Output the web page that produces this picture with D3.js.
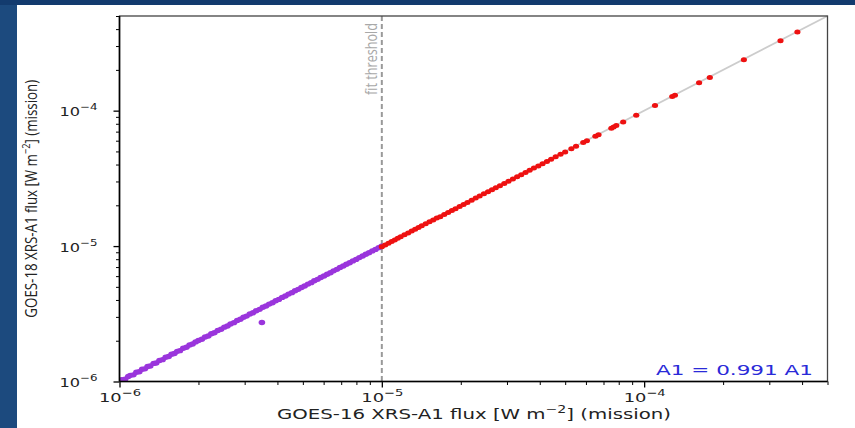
<!DOCTYPE html>
<html><head><meta charset="utf-8">
<script src="https://cdn.jsdelivr.net/npm/d3@7"></script>
<style>html,body{margin:0;padding:0;background:#1c4a7e;}svg{display:block;}</style>
</head><body><svg id="c" width="855" height="428"></svg>
<script>
// ---- data (flux in W m^-2, listed in units of 1e-6) ----
const purpleX = [1.00,1.02,1.05,1.08,1.10,1.13,1.16,1.19,1.22,1.25,
 1.28,1.31,1.35,1.38,1.42,1.46,1.50,1.54,1.58,1.62,
 1.66,1.70,1.75,1.80,1.85,1.90,1.95,2.00,2.06,2.12,
 2.18,2.24,2.30,2.37,2.44,2.51,2.58,2.65,2.73,2.81,
 2.89,2.97,3.05,3.14,3.23,3.32,3.42,3.49,3.52,3.62,
 3.72,3.83,3.94,4.05,4.17,4.29,4.41,4.54,4.67,4.80,
 4.94,5.08,5.23,5.38,5.53,5.69,5.85,6.02,6.19,6.37,
 6.55,6.74,6.93,7.13,7.33,7.54,7.76,7.98,8.21,8.45,
 8.69,8.94,9.20,9.46,9.73,9.98];
const purpleY = [1.00,1.03,1.04,1.09,1.11,1.12,1.17,1.18,1.23,1.24,
 1.29,1.30,1.36,1.37,1.43,1.45,1.51,1.53,1.59,1.61,
 1.67,1.69,1.76,1.79,1.86,1.89,1.96,2.01,2.05,2.13,
 2.17,2.25,2.29,2.38,2.43,2.52,2.57,2.66,2.72,2.82,
 2.88,2.98,3.04,3.15,3.22,3.33,3.41,2.73,3.53,3.61,
 3.73,3.82,3.95,4.04,4.18,4.28,4.42,4.53,4.68,4.79,
 4.95,5.07,5.24,5.37,5.54,5.68,5.86,6.01,6.20,6.36,
 6.56,6.73,6.94,7.12,7.34,7.53,7.77,7.97,8.22,8.44,
 8.70,8.93,9.21,9.45,9.74,9.97];
const redX = [10.0,10.3,10.6,10.9,11.2,11.5,11.8,12.2,12.6,13.0,
 13.4,13.8,14.2,14.7,15.2,15.7,16.2,16.7,17.3,17.9,
 18.5,19.1,19.8,20.5,21.2,22.0,22.8,23.6,24.5,25.4,
 26.3,27.2,28.2,29.3,30.4,31.6,32.8,34.0,35.3,36.6,
 38.0,39.5,41.0,42.6,44.2,46.0,48.0,50.0,52.8,55.0,
 58.6,60.5,65.2,67.0,75.0,76.5,78.3,83.2,93.3,110,
 128,131,162,178,240,331,384];
const redY = [9.9,10.2,10.5,10.8,11.1,11.4,11.7,12.1,12.5,12.9,
 13.3,13.7,14.1,14.6,15.1,15.6,16.1,16.5,17.1,17.7,
 18.3,18.9,19.6,20.3,21.0,21.8,22.6,23.4,24.3,25.2,
 26.1,27.0,27.9,29.0,30.1,31.3,32.5,33.7,35.0,36.3,
 37.7,39.1,40.6,42.2,43.8,45.6,47.6,49.5,52.3,54.5,
 58.1,59.9,64.6,66.4,74.3,75.8,77.6,82.4,92.5,109,
 127,130,161,176,238,328,381];
const unit = 1e-6;
const axisDomain = [1e-6, 5e-4];
const majorTicks = [1e-6, 1e-5, 1e-4];
const majorExp = ["−6", "−5", "−4"];
const fitThreshold = 1e-5;
const xLabel = "GOES-16 XRS-A1 flux [W m";
const yLabel = "GOES-18 XRS-A1 flux [W m";
const fitText = "A1 = 0.991 A1";
const thresholdText = "fit threshold";

// ---- drawing ----
const svg = d3.select("#c");
svg.append("rect").attr("x",0).attr("y",0).attr("width",855).attr("height",428).attr("fill","#1c4a7e");
svg.append("rect").attr("x",0).attr("y",0).attr("width",855).attr("height",5).attr("fill","#133b6e");
svg.append("rect").attr("x",17).attr("y",5).attr("width",838).attr("height",423).attr("fill","#ffffff");

const L=119.5, R=827.5, T=16, B=381.5;
const x = d3.scaleLog().domain(axisDomain).range([L,R]);
const y = d3.scaleLog().domain(axisDomain).range([B,T]);

const minor = [];
for (let e=-6; e<=-4; e++) for (let m=2; m<=9; m++) { const v=m*Math.pow(10,e); if (v<=axisDomain[1]) minor.push(v); }

const tickFont = "DejaVu Sans, sans-serif";
// minor ticks
svg.append("g").attr("transform",`translate(0,${B})`)
  .call(d3.axisBottom(x).tickValues(minor).tickSize(3.5).tickFormat(()=>""))
  .call(g=>{g.select(".domain").remove(); g.selectAll("line").attr("stroke","#000").attr("stroke-width",1);});
svg.append("g").attr("transform",`translate(${L},0)`)
  .call(d3.axisLeft(y).tickValues(minor).tickSize(3.5).tickFormat(()=>""))
  .call(g=>{g.select(".domain").remove(); g.selectAll("line").attr("stroke","#000").attr("stroke-width",1);});
// major ticks
const xa = svg.append("g").attr("transform",`translate(0,${B})`)
  .call(d3.axisBottom(x).tickValues(majorTicks).tickSize(6).tickFormat(()=>""));
xa.select(".domain").remove();
xa.selectAll("line").attr("stroke","#000").attr("stroke-width",1.3);
xa.selectAll(".tick").each(function(d,i){
  const t = d3.select(this).append("text").attr("y",20).attr("text-anchor","middle")
    .attr("fill","#222").style("font-family",tickFont).style("font-size","13px")
    .attr("textLength",42).attr("lengthAdjust","spacingAndGlyphs");
  t.append("tspan").text("10");
  t.append("tspan").attr("dy",-6).style("font-size","9.5px").text(majorExp[i]);
});
const ya = svg.append("g").attr("transform",`translate(${L},0)`)
  .call(d3.axisLeft(y).tickValues(majorTicks).tickSize(6).tickFormat(()=>""));
ya.select(".domain").remove();
ya.selectAll("line").attr("stroke","#000").attr("stroke-width",1.3);
ya.selectAll(".tick").each(function(d,i){
  const t = d3.select(this).append("text").attr("x",-22).attr("y",5).attr("text-anchor","end")
    .attr("fill","#222").style("font-family",tickFont).style("font-size","13px")
    .attr("textLength",38).attr("lengthAdjust","spacingAndGlyphs");
  t.append("tspan").text("10");
  t.append("tspan").attr("dy",-6).style("font-size","9.5px").text(majorExp[i]);
});

// diagonal 1:1 line
svg.append("line").attr("x1",x(axisDomain[0])).attr("y1",y(axisDomain[0]))
  .attr("x2",x(axisDomain[1])).attr("y2",y(axisDomain[1]))
  .attr("stroke","#cccccc").attr("stroke-width",1.8);

// threshold
svg.append("line").attr("x1",x(fitThreshold)).attr("x2",x(fitThreshold)).attr("y1",T).attr("y2",B)
  .attr("stroke","#999").attr("stroke-width",2).attr("stroke-dasharray","5,3");

// rotated text compressed along its direction via scale
function rotatedText(cx, cy, anchor, size, color, targetLen, build){
  const g = svg.append("g").attr("transform",`translate(${cx},${cy}) rotate(-90)`);
  const t = g.append("text").attr("text-anchor",anchor).attr("fill",color)
    .style("font-family","Open Sans, sans-serif").style("font-size",size+"px");
  build(t);
  const len = t.node().getComputedTextLength();
  t.attr("transform",`scale(${targetLen/len},1)`);
  return t;
}
rotatedText(x(fitThreshold)-5, T+7, "end", 17, "#a8a8a8", 72, t=>t.text(thresholdText));

// points
const pts = (xs,ys)=>xs.map((v,i)=>({x:v*unit,y:ys[i]*unit})).filter(d=>d.y>0);
svg.append("clipPath").attr("id","pc").append("rect").attr("x",L).attr("y",T).attr("width",R-L).attr("height",B-T);
const pg = svg.append("g").attr("clip-path","url(#pc)");
pg.selectAll("ellipse.p").data(pts(purpleX,purpleY)).join("ellipse").attr("class","p")
  .attr("cx",d=>x(d.x)).attr("cy",d=>y(d.y)).attr("rx",3.3).attr("ry",2.7).attr("fill","#9a35dc");
pg.selectAll("ellipse.r").data(pts(redX,redY)).join("ellipse").attr("class","r")
  .attr("cx",d=>x(d.x)).attr("cy",d=>y(d.y)).attr("rx",3.1).attr("ry",2.5).attr("fill","#ee1111");

// frame
svg.append("rect").attr("x",L).attr("y",T).attr("width",R-L).attr("height",B-T)
  .attr("fill","none").attr("stroke","#444").attr("stroke-width",1.3);
svg.append("line").attr("x1",L).attr("x2",L).attr("y1",T).attr("y2",B).attr("stroke","#000").attr("stroke-width",1.6);
svg.append("line").attr("x1",L).attr("x2",R).attr("y1",B).attr("y2",B).attr("stroke","#000").attr("stroke-width",1.6);

// fit annotation
svg.append("text").attr("x",813).attr("y",375).attr("text-anchor","end").attr("fill","#2a2ad8")
  .style("font-family",tickFont).style("font-size","14.5px")
  .attr("textLength",157).attr("lengthAdjust","spacingAndGlyphs").text(fitText);

// axis labels
const xl = svg.append("text").attr("x",474).attr("y",419).attr("text-anchor","middle").attr("fill","#222")
  .style("font-family",tickFont).style("font-size","14px")
  .attr("textLength",394).attr("lengthAdjust","spacingAndGlyphs");
xl.append("tspan").text(xLabel);
xl.append("tspan").attr("dy",-6).style("font-size","10px").text("−2");
xl.append("tspan").attr("dy",6).text("] (mission)");

rotatedText(37, (T+B)/2, "middle", 16.5, "#222", 238, t=>{
  t.append("tspan").text(yLabel);
  t.append("tspan").attr("dy",-7).style("font-size","11.5px").text("−2");
  t.append("tspan").attr("dy",7).text("] (mission)");
});
</script></body></html>
